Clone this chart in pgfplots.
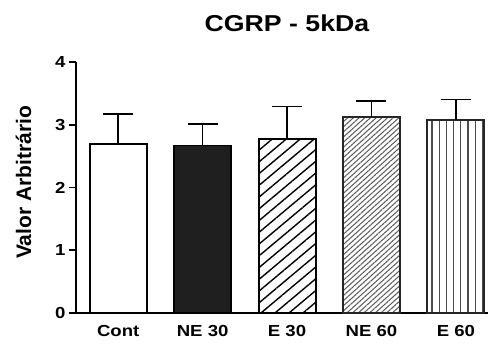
\documentclass[border=0pt]{standalone}
\usepackage{pgfplots}
\pgfplotsset{compat=1.18}
\usepackage{fontspec}
\setmainfont{Liberation Sans}[FakeStretch=1.16]
\newfontfamily\ylabfont{Liberation Sans}[FakeStretch=1.0]
\usetikzlibrary{patterns.meta}
\begin{document}
\begin{tikzpicture}
\path[use as bounding box] (-76pt,-31pt) rectangle (412pt,313pt);
\begin{axis}[
  at={(0,0)}, anchor=south west,
  scale only axis, width=412pt, height=251pt,
  xmin=-0.5, xmax=4.38, ymin=0, ymax=4,
  axis lines=left, axis line style={line width=1.9pt, -},
  xtick={0,1,2,3,4},
  xticklabels={Cont, NE 30, E 30, NE 60, E 60},
  xtick style={draw=none},
  ytick={0,1,2,3,4},
  ytick style={line width=1.6pt, black},
  tick align=outside, major tick length=7pt,
  /pgf/number format/assume math mode=true,
  ticklabel style={font=\bfseries\fontsize{16}{17}\selectfont},
  xticklabel style={yshift=-2pt},
  yticklabel style={xshift=0pt},
  ybar, bar width=57pt, bar shift=0pt,
  clip=false,
  error bars/y dir=plus, error bars/y explicit,
  error bars/error bar style={line width=1.7pt, black},
  error bars/error mark options={rotate=90, mark size=15pt, line width=1.7pt, black},
]
\addplot[draw=black, line width=1.9pt, fill=white] coordinates {(0,2.69) +- (0,0.48)};
\addplot[draw=black, line width=1.9pt, fill=black!88] coordinates {(1,2.67) +- (0,0.34)};
\addplot[draw=black, line width=1.9pt, pattern={Lines[angle=40,distance=9pt,line width=1.4pt]}, pattern color=black] coordinates {(2,2.77) +- (0,0.52)};
\addplot[draw=black!85, line width=1.9pt, pattern={Lines[angle=42,distance=3.8pt,line width=1.0pt]}, pattern color=black!65] coordinates {(3,3.13) +- (0,0.25)};
\addplot[draw=black!85, line width=1.9pt, pattern={Lines[angle=90,distance=7.2pt,line width=1.3pt]}, pattern color=black!70] coordinates {(4,3.08) +- (0,0.32)};
\end{axis}
\node[font=\bfseries\fontsize{23}{24}\selectfont, anchor=base] at (211pt,251pt+30pt) {CGRP - 5kDa};
\node[font=\ylabfont\bfseries\fontsize{21}{22}\selectfont, rotate=90] at (-52.5pt,130.5pt) {Valor Arbitrário};
\end{tikzpicture}
\end{document}
